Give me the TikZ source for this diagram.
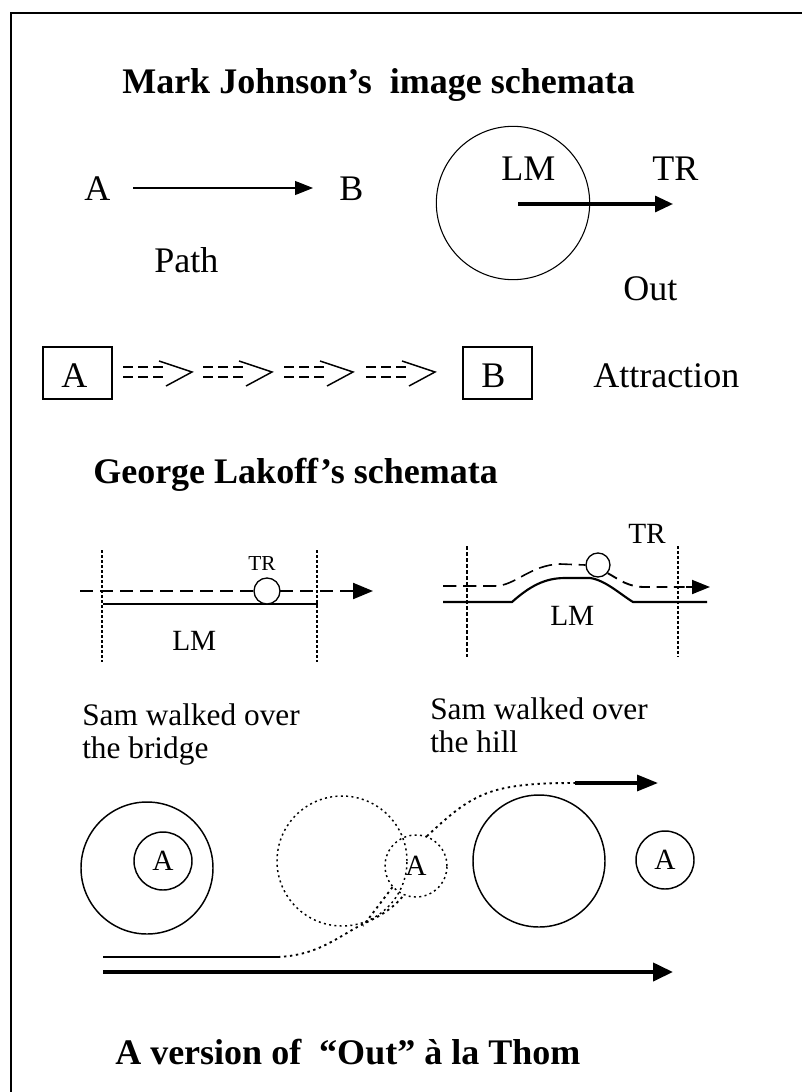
\documentclass[tikz,border=0pt]{standalone}
\usepackage{fontspec}
\setmainfont{Liberation Serif}
\usetikzlibrary{arrows.meta}
\begin{document}
\begin{tikzpicture}[x=0.75pt,y=-0.75pt,
  txt/.style={inner sep=0pt,anchor=base west,font=\fontsize{27}{32}\selectfont},
  ttl/.style={inner sep=0pt,anchor=base west,font=\fontsize{27}{32}\selectfont\bfseries},
  smalltxt/.style={inner sep=0pt,anchor=base west,font=\fontsize{16}{19}\selectfont},
  midtxt/.style={inner sep=0pt,anchor=base west,font=\fontsize{22}{26}\selectfont},
  samtxt/.style={inner sep=0pt,anchor=base west,font=\fontsize{23.5}{28}\selectfont},
  ring/.style={circle,draw,inner sep=0pt,line width=1.1pt},
  dotring/.style={circle,draw,inner sep=0pt,line width=1.1pt,dash pattern=on 1.5pt off 2.5pt},
  vdot/.style={line width=1.1pt,dash pattern=on 2.25pt off 1.5pt},
  dattr/.style={line width=1.1pt,dash pattern=on 7.5pt off 3.75pt},
  frame/.style={line width=1.6pt}
]
\useasboundingbox (0,0) rectangle (802,1092);
\fill[white] (0,0) rectangle (802,1092);
% frame
\coordinate (fbl) at (11,1095);
\coordinate (ftl) at (11,13);
\coordinate (ftr) at (805,13);
\draw[frame] (fbl) -- (ftl) -- (ftr);

% ---------- Mark Johnson ----------
\node[ttl] (t1) at (122,93) {Mark Johnson’s\ \ image schemata};
\node[txt] (pa) at (84,200) {A};
\node[txt] (pb) at (339,200) {B};
\coordinate (ps) at (133,188);
\coordinate (pe) at (313,188);
\draw[line width=0.8pt,-{Triangle[length=13.5pt,width=10.5pt]}] (ps) -- (pe);
\node[txt] (path) at (154,272) {Path};

\node[circle,draw,inner sep=0pt,line width=0.8pt,minimum size=115pt] (lmc) at (513,203) {};
\node[txt] (lm1) at (501,180) {LM};
\node[txt] (tr1) at (652,180) {TR};
\coordinate (os) at (518,204);
\coordinate (oe) at (673,204);
\draw[line width=2.4pt,-{Triangle[length=13.5pt,width=12pt]}] (os) -- (oe);
\node[txt] (out) at (623,300) {Out};

% attraction
\node[draw,line width=0.9pt,minimum width=51.75pt,minimum height=39pt,inner sep=0pt] (ba) at (77.5,373) {};
\node[txt] (bat) at (61,387) {A};
\node[draw,line width=0.9pt,minimum width=51.75pt,minimum height=39pt,inner sep=0pt] (bb) at (497.5,373) {};
\node[txt] (bbt) at (481,387) {B};
\foreach \x in {123,203,284,366} {
  \draw[dattr] (\x,367) -- ++(45,0);
  \draw[dattr] (\x,377) -- ++(45,0);
  \draw[line width=1.1pt] (\x+36,361) -- (\x+69,372) -- (\x+43,386);
}
\node[txt] (attr) at (593,387) {Attraction};

% ---------- George Lakoff ----------
\node[ttl] (t2) at (93,483) {George Lakoff’s schemata};

% bridge
\coordinate (bl1) at (102,550); \coordinate (bl2) at (102,662);
\coordinate (br1) at (317,550); \coordinate (br2) at (317,662);
\draw[vdot] (bl1) -- (bl2);
\draw[vdot] (br1) -- (br2);
\coordinate (bds) at (80,591);
\coordinate (bde) at (352,591);
\coordinate (bae) at (373,591);
\draw[line width=1.6pt,dash pattern=on 10pt off 5pt] (bds) -- (bde);
\draw[line width=1.6pt,-{Triangle[length=15pt,width=12pt]}] (bde) -- (bae);
\coordinate (bss) at (103,604);
\coordinate (bse) at (318,604);
\draw[line width=1.6pt] (bss) -- (bse);
\node[circle,draw,fill=white,inner sep=0pt,line width=1pt,minimum size=19.5pt] (btr) at (267,591) {};
\node[smalltxt] (btrl) at (248,570) {TR};
\node[midtxt] (blm) at (172,650) {LM};

% hill
\coordinate (hl1) at (467,546); \coordinate (hl2) at (467,657);
\coordinate (hr1) at (678,546); \coordinate (hr2) at (678,657);
\draw[line width=1.8pt,dash pattern=on 3pt off 1.5pt] (hl1) -- (hl2);
\draw[vdot] (hr1) -- (hr2);
\coordinate (hb1) at (443,602);
\coordinate (hb2) at (512,602);
\coordinate (hb3) at (633,602);
\coordinate (hb4) at (707,602);
\draw[line width=1.6pt] (hb1) -- (hb2) .. controls (530,586) and (545,578) .. (565,578)
  -- (590,578) .. controls (605,580) and (620,594) .. (hb3) -- (hb4);
\node[circle,draw,fill=white,inner sep=0pt,line width=1pt,minimum size=18pt] (htr) at (598,565) {};
\coordinate (hd1) at (443,586);
\coordinate (hd2) at (692,587);
\coordinate (hd3) at (710,587);
\draw[line width=1.2pt,dash pattern=on 10pt off 5pt] (hd1) -- (495,586)
  .. controls (515,586) and (530,565) .. (560,564) -- (htr.west);
\draw[line width=1.4pt,dash pattern=on 8pt off 5pt] (htr.-40) .. controls (620,580) and (628,587) .. (645,587) -- (hd2);
\draw[line width=1.4pt,-{Triangle[length=13.5pt,width=10.5pt]}] (686,587) -- (hd3);
\node[midtxt] (htrl) at (628,543) {TR};
\node[midtxt] (hlm) at (550,625) {LM};

\node[samtxt] (s1a) at (82,725) {Sam walked over};
\node[samtxt] (s1b) at (82,758) {the bridge};
\node[samtxt] (s2a) at (430,719) {Sam walked over};
\node[samtxt] (s2b) at (430,752) {the hill};

% ---------- Thom ----------
\node[ring,minimum size=99pt] (c1) at (147,868) {};
\node[ring,minimum size=43.5pt,font=\fontsize{22}{26}\selectfont] (c1a) at (163,861) {A};
\node[dotring,minimum size=97.5pt] (c2) at (342,861) {};
\node[dotring,minimum size=46.5pt,font=\fontsize{22}{26}\selectfont] (cA) at (416,866) {A};
\node[ring,minimum size=99pt] (c3) at (539,861) {};
\node[ring,minimum size=43.5pt,font=\fontsize{22}{26}\selectfont] (c4) at (665,860) {A};

\coordinate (tl1) at (103,957);
\coordinate (tl2) at (278,957);
\draw[line width=1.2pt] (tl1) -- (tl2);
\draw[line width=1.4pt,dash pattern=on 1.8pt off 2.7pt] (tl2) .. controls (320,955) and (340,935) .. (365,923)
  .. controls (385,914) and (396,905) .. (cA.247);
\coordinate (stub) at (363,926);
\draw[line width=1.4pt,dash pattern=on 1.8pt off 2.7pt] (cA.222) -- (stub);
\coordinate (ex1) at (575,783);
\coordinate (ex2) at (658,783);
\draw[line width=1.4pt,dash pattern=on 1.8pt off 2.7pt] (cA.70) .. controls (450,815) and (470,795) .. (505,788)
  .. controls (525,784) and (545,783) .. (ex1);
\draw[line width=2.4pt,-{Triangle[length=15.75pt,width=12pt]}] (ex1) -- (ex2);
\coordinate (ba1) at (103,972);
\coordinate (ba2) at (673,972);
\draw[line width=3pt,-{Triangle[length=15pt,width=13.5pt]}] (ba1) -- (ba2);

\node[ttl] (t3) at (115,1064) {A version of\ \ “Out” à la Thom};
\end{tikzpicture}
\end{document}
